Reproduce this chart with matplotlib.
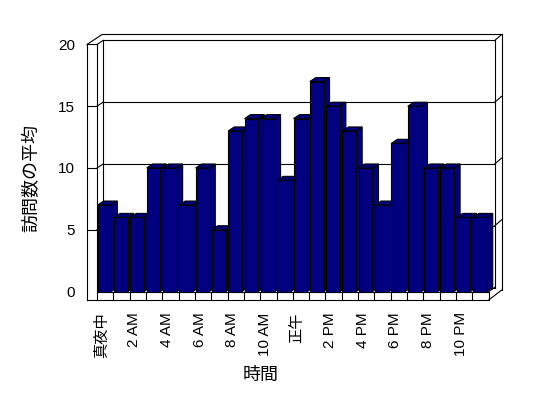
import matplotlib
matplotlib.use('Agg')
import matplotlib.pyplot as plt
from matplotlib.patches import Polygon
from matplotlib.transforms import ScaledTranslation
import numpy as np

plt.rcParams['font.family'] = ['Liberation Sans', 'Noto Sans CJK JP']

# average visits per hour
hours = list(range(24))
visits = [7, 6, 6, 10, 10, 7, 10, 5, 13, 14, 14, 9,
          14, 17, 15, 13, 10, 7, 12, 15, 10, 10, 6, 6]
tick_hours = list(range(0, 24, 2))
tick_labels = ['真夜中', '2 AM', '4 AM', '6 AM', '8 AM', '10 AM',
               '正午', '2 PM', '4 PM', '6 PM', '8 PM', '10 PM']
y_ticks = [0, 5, 10, 15, 20]

bar_color = '#000080'
lw = 0.8
# fake 3d depth in pixels (x right, y up)
DX, DY = 6, 4        # back wall (inner)
OX, OY = 13, 10      # back wall (outer)
WALL = 10            # left wall thickness
FLOOR = 8.5          # floor thickness

fig = plt.figure(figsize=(5.48, 3.98), dpi=100)
ax = fig.add_axes([97 / 548, (398 - 291.5) / 398, (488.7 - 97) / 548, (291.5 - 44.5) / 398])
ax.set_xlim(-0.5, 23.5)
ax.set_ylim(0, 20)
ax.patch.set_visible(False)
for s in ax.spines.values():
    s.set_visible(False)


def shift(x, y, dx, dy):
    px, py = ax.transData.transform((x, y))
    return ax.transData.inverted().transform((px + dx, py + dy))


def seg(p, q, z=1):
    ax.plot([p[0], q[0]], [p[1], q[1]], color='black', lw=lw, clip_on=False,
            zorder=z, solid_capstyle='projecting')


x0, x1 = -0.5, 23.5
top = 20

# left wall front face + floor front face
seg(shift(x0, top, -WALL, 0), shift(x0, 0, -WALL, -FLOOR))
seg(shift(x0, top, -WALL, 0), (x0, top))
seg((x0, top), (x0, 0))
seg(shift(x0, 0, -WALL, -FLOOR), shift(x1, 0, 0, -FLOOR))
seg((x0, 0), (x1, 0))
seg((x1, 0), shift(x1, 0, 0, -FLOOR))
for k in np.arange(x0, x1, 1.0):
    seg((k, 0), shift(k, 0, 0, -FLOOR))

# floor right end
seg(shift(x1, 0, 0, -FLOOR), shift(x1, 0, OX, OY - FLOOR))
seg((x1, 0), shift(x1, 0, DX, DY))

# back wall inner
seg(shift(x0, 0, DX, DY), shift(x0, top, DX, DY))
seg(shift(x0, top, DX, DY), shift(x1, top, DX, DY))
seg(shift(x1, 0, DX, DY), shift(x1, top, DX, DY))
seg(shift(x0, 0, DX, DY), shift(x1, 0, DX, DY))
seg((x0, top), shift(x0, top, DX, DY))

# back wall outer
seg(shift(x0, top, -WALL, 0), shift(x0, top, OX - WALL + 2, OY))
seg(shift(x0, top, OX - WALL + 2, OY), shift(x1, top, OX, OY))
seg(shift(x1, top, DX, DY), shift(x1, top, OX, OY))
seg(shift(x1, top, OX, OY), shift(x1, 0, OX, OY - FLOOR))

# gridlines
for v in y_ticks[1:-1]:
    seg(shift(x0, v, -WALL, 0), (x0, v))
    seg((x0, v), shift(x0, v, DX, DY))
    seg(shift(x0, v, DX, DY), shift(x1, v, DX, DY))
    seg(shift(x1, v, DX, DY), shift(x1, v, OX, OY))

# bars
bars = ax.bar([h - 0.46 for h in hours], visits, width=0.84, align='edge',
              color=bar_color, edgecolor='black', linewidth=lw)
for i, b in enumerate(bars):
    z = 3 + i * 0.1
    left = b.get_x()
    right = left + b.get_width()
    v = b.get_height()
    side = [(right, 0), (right, v), shift(right, v, DX, DY), shift(right, 0, DX, DY)]
    cap = [(left, v), (right, v), shift(right, v, DX, DY), shift(left, v, DX, DY)]
    for pts in (side, cap):
        ax.add_patch(Polygon(pts, closed=True, facecolor=bar_color, edgecolor='black',
                             linewidth=lw, zorder=z, clip_on=False))
    b.set_zorder(z + 0.05)

# ticks and labels
ax.set_yticks(y_ticks)
ax.set_yticklabels([str(t) for t in y_ticks], fontsize=11)
ax.tick_params(axis='y', length=0, pad=16)
ax.set_xticks(tick_hours)
ax.set_xticklabels(tick_labels, rotation=90, fontsize=11, va='top', ha='center')
ax.tick_params(axis='x', length=0, pad=15)
off = ScaledTranslation(-3.5 / 100, 0, fig.dpi_scale_trans)
for lbl in ax.get_xticklabels():
    lbl.set_transform(lbl.get_transform() + off)

fig.text(261 / 548, 1 - 375.5 / 398, '時間', fontsize=13, ha='center', va='center')
fig.text(32 / 548, 1 - 178 / 398, '訪問数の平均', fontsize=13, ha='center', va='center',
         rotation=90)

fig.savefig('out.png', dpi=100, facecolor='white')
